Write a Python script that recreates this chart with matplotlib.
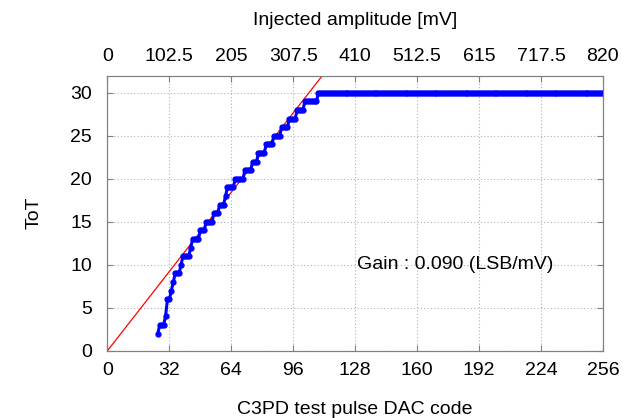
import matplotlib
matplotlib.use("Agg")
import matplotlib.pyplot as plt
import numpy as np

plt.rcParams['font.family'] = ['Liberation Sans', 'DejaVu Sans']

# DAC code scan 26..256, ToT
dac_code = np.arange(26, 257)
tot_ramp = [2, 3, 3, 3, 4, 6, 6, 7, 8, 9, 9, 9, 10, 11, 11, 11, 11, 12,
            13, 13, 13, 13, 14, 14, 14, 15, 15, 15, 15, 16, 16, 16, 17, 17, 17,
            18, 19, 19, 19, 19, 20, 20, 20, 20, 20, 21, 21, 21, 21, 22, 22, 22,
            23, 23, 23, 23, 24, 24, 24, 24, 25, 25, 25, 25, 26, 26, 26, 26,
            27, 27, 27, 27, 28, 28, 28, 28, 29, 29, 29, 29, 29, 29, 29]
tot_plateau = [30] * 148
tot = np.array(tot_ramp + tot_plateau)

mv_full_scale = 820.0
gain = 0.090  # LSB/mV
x_ticks = [0, 32, 64, 96, 128, 160, 192, 224, 256]
y_ticks = [0, 5, 10, 15, 20, 25, 30]
top_labels = ['0', '102.5', '205', '307.5', '410', '512.5', '615', '717.5', '820']

fig = plt.figure(figsize=(6.36, 4.18), dpi=100)
ax = fig.add_axes([0.169, 0.161, 0.779, 0.658])

fit_x = np.array([0, 256])
ax.plot(fit_x, gain * mv_full_scale / 256 * fit_x, color='red', lw=0.9, zorder=2)
ax.plot(dac_code, tot, color='blue', lw=2.2, marker='o', ms=3.5, zorder=3)

ax.set_xlim(0, 256)
ax.set_ylim(0, 32)
ax.set_xticks(x_ticks)
ax.set_yticks(y_ticks)
ax.grid(True, color='#b0b0b0', ls=(0, (1, 2)), lw=0.8)
ax.tick_params(direction='in', length=4, color='#808080', labelsize=14, pad=11,
               top=False, right=True)
ax.tick_params(axis='x', pad=8)
for s in ax.spines.values():
    s.set_color('#808080')
ax.set_xlabel('C3PD test pulse DAC code', fontsize=14, labelpad=16)
ax.set_ylabel('ToT', fontsize=14, labelpad=20)

ax.text(129, 10, 'Gain : 0.090 (LSB/mV)', fontsize=14, va='center', ha='left')

ax2 = ax.twiny()
ax2.set_xlim(0, 256)
ax2.set_xticks(x_ticks)
ax2.set_xticklabels(top_labels)
ax2.tick_params(direction='in', length=4, color='#808080', labelsize=14, pad=8)
for s in ax2.spines.values():
    s.set_color('#808080')
ax2.set_xlabel('Injected amplitude [mV]', fontsize=14, labelpad=16)

fig.savefig('out.png', dpi=100)
